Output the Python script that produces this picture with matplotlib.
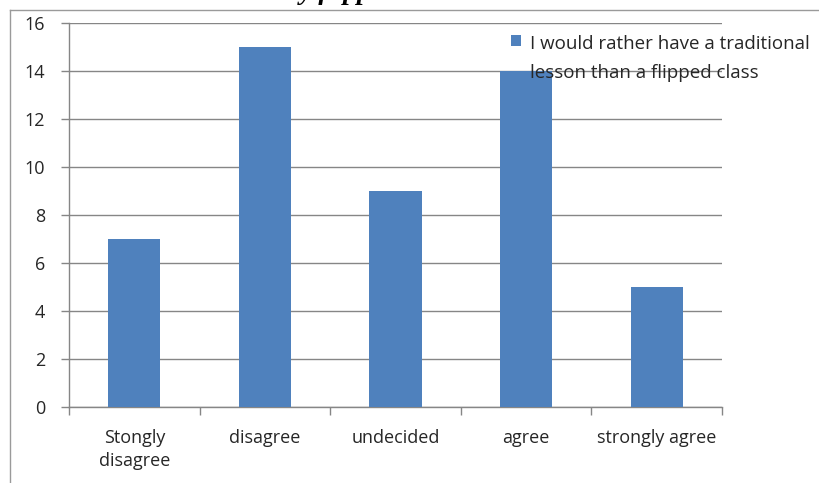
import matplotlib
matplotlib.use("Agg")
import matplotlib.pyplot as plt
from matplotlib.lines import Line2D

categories = ["Stongly\ndisagree", "disagree", "undecided", "agree", "strongly agree"]
counts = [7, 15, 9, 14, 5]
series_label = "I would rather have a traditional\nlesson than a flipped class"
y_ticks = [0, 2, 4, 6, 8, 10, 12, 14, 16]

bar_color = "#4F81BD"
grid_color = "#868686"
text_color = "#262626"

plt.rcParams["font.family"] = ["Open Sans", "DejaVu Sans"]

W, H = 819, 483
fig = plt.figure(figsize=(W / 100, H / 100), dpi=100)
ax = fig.add_axes([69 / W, 1 - 407 / H, (722 - 69) / W, (407 - 23) / H])

x = list(range(len(categories)))
ax.bar(x, counts, width=0.4, color=bar_color, zorder=3, label=series_label)

ax.set_xlim(-0.5, len(categories) - 0.5)
ax.set_ylim(0, 16)
ax.set_yticks(y_ticks)
ax.set_yticklabels([str(v) for v in y_ticks], fontsize=13, color=text_color)
ax.yaxis.grid(True, color=grid_color, linewidth=1.0, zorder=0)

ax.set_xticks([i + 0.5 for i in range(-1, len(categories))], minor=False)
ax.set_xticklabels([])
ax.set_xticks(x, minor=True)
ax.set_xticklabels(categories, minor=True, fontsize=13, color=text_color,
                   linespacing=1.35)
ax.tick_params(axis="x", which="major", length=6, color=grid_color, width=1)
ax.tick_params(axis="x", which="minor", length=0, pad=16)
ax.tick_params(axis="y", length=6, color=grid_color, width=1, pad=11)

for side in ["top", "right"]:
    ax.spines[side].set_visible(False)
for side in ["left", "bottom"]:
    ax.spines[side].set_color(grid_color)
    ax.spines[side].set_linewidth(1.0)

leg = ax.legend(loc="upper left", bbox_to_anchor=(511 / W, 1 - 35 / H),
                bbox_transform=fig.transFigure, frameon=False,
                fontsize=13.5, handlelength=0.55, handleheight=0.55,
                handletextpad=0.45, borderaxespad=0, borderpad=0)
for t in leg.get_texts():
    t.set_color(text_color)
    t.set_linespacing(1.75)
# keep the colour key level with the first line of the label
for column in leg._legend_handle_box.get_children():
    for row in column.get_children():
        row.align = "top"

# outer frame
fig.add_artist(Line2D([10 / W, 10 / W], [0, 1 - 10 / H], transform=fig.transFigure,
                      color="#9a9a9a", linewidth=1.0))
fig.add_artist(Line2D([10 / W, 1], [1 - 10 / H, 1 - 10 / H], transform=fig.transFigure,
                      color="#9a9a9a", linewidth=1.0))

# caption running off the top edge
fig.text(300 / W, 1 + 1 / H, "y flipped", fontsize=20, family="Liberation Serif",
         style="italic", weight="bold", va="baseline", ha="left", color="black")

fig.savefig("out.png", dpi=100)
